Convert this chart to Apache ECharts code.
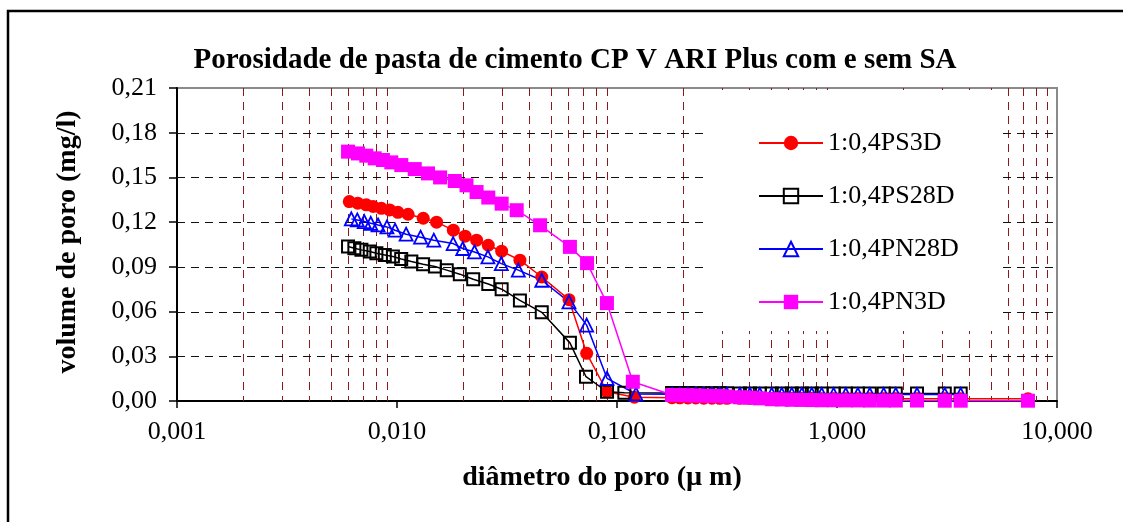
<!DOCTYPE html>
<html><head><meta charset="utf-8">
<script src="https://cdn.jsdelivr.net/npm/echarts@6/dist/echarts.min.js"></script>
<style>html,body{margin:0;padding:0;background:#fff;overflow:hidden}#c{width:1123px;height:522px}</style>
</head><body><div id="c"></div>
<script>
// ---------- text ----------
const titleText = 'Porosidade de pasta de cimento CP V ARI Plus com e sem SA';
const xAxisTitle = 'diâmetro do poro (µ m)';
const yAxisTitle = 'volume de poro (mg/l)';
const seriesNames = ['1:0,4PS3D', '1:0,4PS28D', '1:0,4PN28D', '1:0,4PN3D'];

// ---------- axis ----------
const xMin = 0.001, xMax = 10;
const yMin = 0, yMax = 0.21, yStep = 0.03;
const hGridValues = [0.03, 0.06, 0.09, 0.12, 0.15, 0.18];
const vGridValues = [0.002,0.003,0.004,0.005,0.006,0.007,0.008,0.009,
                     0.02,0.03,0.04,0.05,0.06,0.07,0.08,0.09,
                     0.2,0.3,0.4,0.5,0.6,0.7,0.8,0.9,
                     2,3,4,5,6,7,8,9];

// ---------- data (diameter in µm, volume) ----------
const tailDiam = [0.178,0.193,0.210,0.228,0.248,0.270,0.293,0.316,0.362,0.402,0.446,0.505,0.561,
                  0.623,0.692,0.768,0.852,0.965,1.096,1.244,1.41,1.63,1.85,2.31,3.09,3.65];

const ps3dDiam = [0.00607,0.00663,0.00725,0.00779,0.00849,0.00926,0.0101,0.01123,0.01316,0.01513,
                  0.01803,0.0204,0.023,0.026,0.0299,0.0362,0.0455,0.0605,0.0728,0.0901,0.12];
const ps3dVol  = [0.1338,0.1327,0.1316,0.1305,0.1293,0.1282,0.1266,0.1253,0.1226,0.1200,
                  0.1146,0.1106,0.1079,0.1045,0.1005,0.0945,0.0832,0.0680,0.0320,0.0062,0.0025];
const ps3dTailVol = [0.0022,0.0021,0.0020,0.0020,0.0019,0.0019,0.0018,0.0018,0.0018,0.0017,0.0017,0.0017,0.0016,
                     0.0016,0.0016,0.0016,0.0015,0.0015,0.0015,0.0015,0.0015,0.0015,0.0015,0.0015,0.0015,0.0015];
const ps3dLast = [7.38, 0.0015];

const ps28dDiam = [0.00599,0.0064,0.00689,0.00752,0.00806,0.0088,0.00958,0.01045,0.01162,0.01314,0.01487,
                   0.01683,0.0193,0.0222,0.026,0.0299,0.0362,0.0455,0.0611,0.0723,0.0901,0.108];
const ps28dVol  = [0.1036,0.1025,0.1014,0.1003,0.0991,0.0980,0.0969,0.0953,0.0936,0.0918,0.0902,
                   0.0878,0.0851,0.0817,0.0785,0.0750,0.0675,0.0595,0.0390,0.0163,0.0062,0.0056];
const ps28dTailVol = [0.0053,0.0053,0.0053,0.0052,0.0052,0.0052,0.0052,0.0052,0.0051,0.0051,0.0051,0.0051,0.0051,
                      0.0051,0.0050,0.0050,0.0050,0.0050,0.0050,0.0050,0.0050,0.0050,0.0050,0.0050,0.0050,0.0050];

const pn28dDiam = [0.0062,0.0066,0.0071,0.0076,0.0082,0.009,0.0098,0.011,0.0128,0.0147,0.018,
                   0.0199,0.0225,0.0259,0.0298,0.0356,0.0455,0.0605,0.0728,0.0901,0.122];
const pn28dVol  = [0.1222,0.1215,0.1204,0.1192,0.1181,0.1168,0.1146,0.1119,0.1099,0.1079,0.1056,
                   0.1023,0.1000,0.0967,0.0922,0.0878,0.0810,0.0665,0.0509,0.0152,0.0047];
const pn28dTailVol = [0.0046,0.0046,0.0046,0.0045,0.0045,0.0045,0.0045,0.0045,0.0045,0.0045,0.0045,0.0044,0.0044,
                      0.0044,0.0044,0.0044,0.0044,0.0044,0.0044,0.0044,0.0044,0.0044,0.0044,0.0044,0.0044,0.0044];

const pn3dDiam = [0.00599,0.00665,0.00725,0.00792,0.00863,0.00942,0.01046,0.01204,0.01383,0.0157,
                  0.0183,0.0207,0.023,0.026,0.0299,0.035,0.0447,0.0611,0.0731,0.09,0.118];
const pn3dVol  = [0.1673,0.1661,0.1646,0.1628,0.1617,0.1601,0.1583,0.1556,0.1527,0.1500,
                  0.1476,0.1447,0.1402,0.1365,0.1324,0.1280,0.1179,0.1034,0.0925,0.0657,0.0129];
const pn3dTailVol = [0.0040,0.0040,0.0038,0.0037,0.0035,0.0034,0.0033,0.0030,0.0025,0.0022,0.0018,0.0012,0.0010,
                     0.0008,0.0007,0.0006,0.0005,0.0005,0.0004,0.0004,0.0003,0.0003,0.0003,0.0003,0.0002,0.0002];
const pn3dLast = [7.38, 0.0002];

// ---------- build ----------
function zip(d, v) { return d.map((x, i) => [x, v[i]]); }
const dataPS3D  = zip(ps3dDiam, ps3dVol).concat(zip(tailDiam, ps3dTailVol), [ps3dLast]);
const dataPS28D = zip(ps28dDiam, ps28dVol).concat(zip(tailDiam, ps28dTailVol));
const dataPN28D = zip(pn28dDiam, pn28dVol).concat(zip(tailDiam, pn28dTailVol));
const dataPN3D  = zip(pn3dDiam, pn3dVol).concat(zip(tailDiam, pn3dTailVol), [pn3dLast]);

const serif = '"Liberation Serif", "Times New Roman", serif';

// vertical grid (minor log lines) and horizontal grid drawn through the axes' scales
const vGridSeries = {
  type: 'custom', silent: true, z: 1, clip: true,
  data: vGridValues.map(v => [v, yMin]),
  renderItem: function (params, api) {
    const cs = params.coordSys;
    const x = Math.round(api.coord([api.value(0), yMin])[0]) + 0.5;
    return { type: 'line', shape: { x1: x, y1: cs.y, x2: x, y2: cs.y + cs.height },
             style: { stroke: '#8b1a1a', lineWidth: 1, lineDash: [8, 6] } };
  }
};
const hGridSeries = {
  type: 'custom', silent: true, z: 1, clip: true,
  data: hGridValues.map(v => [1, v]),
  renderItem: function (params, api) {
    const cs = params.coordSys;
    const y = Math.round(api.coord([1, api.value(1)])[1]) + 0.5;
    return { type: 'line', shape: { x1: cs.x, y1: y, x2: cs.x + cs.width, y2: y },
             style: { stroke: '#111', lineWidth: 1, lineDash: [8, 6] } };
  }
};

const chart = echarts.init(document.getElementById('c'), null, { renderer: 'canvas' });
chart.setOption({
  animation: false,
  backgroundColor: '#fff',
  grid: { left: 177, right: 66, top: 88, bottom: 121, show: true, borderColor: '#8a8a8a', borderWidth: 2, backgroundColor: 'transparent' },
  xAxis: {
    type: 'log', logBase: 10, min: xMin, max: xMax,
    axisLine: { show: true, onZero: false, lineStyle: { color: '#000', width: 2 } },
    axisTick: { show: true, inside: false, length: 7, lineStyle: { color: '#000', width: 1.5 } },
    splitLine: { show: false },
    minorTick: { show: false },
    minorSplitLine: { show: false },
    axisLabel: {
      margin: 18, color: '#000', fontFamily: serif, fontSize: 26,
      formatter: v => Number(v).toFixed(3).replace('.', ',')
    }
  },
  yAxis: {
    type: 'value', min: yMin, max: yMax, interval: yStep,
    axisLine: { show: true, lineStyle: { color: '#000', width: 2 } },
    axisTick: { show: true, inside: false, length: 8, lineStyle: { color: '#000', width: 1.5 } },
    splitLine: { show: false },
    axisLabel: {
      margin: 20, color: '#000', fontFamily: serif, fontSize: 26,
      formatter: v => Number(v).toFixed(2).replace('.', ',')
    }
  },
  legend: {
    data: seriesNames,
    orient: 'vertical',
    left: 705, top: 90,
    padding: [40, 40, 16, 53],
    backgroundColor: '#fff',
    itemWidth: 64, itemHeight: 18, itemGap: 27,
    textStyle: { fontFamily: serif, fontSize: 26, color: '#000' },
    z: 4
  },
  series: [
    vGridSeries,
    hGridSeries,
    {
      name: seriesNames[0], type: 'line', data: dataPS3D, z: 3,
      symbol: 'circle', symbolSize: 13,
      itemStyle: { color: '#ff0000' },
      lineStyle: { color: '#ff0000', width: 1.5 }
    },
    {
      name: seriesNames[1], type: 'line', data: dataPS28D, z: 3,
      symbol: 'rect', symbolSize: 12,
      itemStyle: { color: 'rgba(0,0,0,0)', borderColor: '#000', borderWidth: 2 },
      lineStyle: { color: '#000', width: 1.5 }
    },
    {
      name: seriesNames[2], type: 'line', data: dataPN28D, z: 3,
      symbol: 'triangle', symbolSize: 13,
      itemStyle: { color: 'rgba(0,0,0,0)', borderColor: '#0000ff', borderWidth: 1.8 },
      lineStyle: { color: '#0000ff', width: 1.5 }
    },
    {
      name: seriesNames[3], type: 'line', data: dataPN3D, z: 3,
      symbol: 'rect', symbolSize: 14,
      itemStyle: { color: '#ff00ff' },
      lineStyle: { color: '#ff00ff', width: 1.5 }
    }
  ],
  graphic: [
    { type: 'rect', silent: true, z: 10, shape: { x: 8, y: 11, width: 1140, height: 540 },
      style: { fill: 'none', stroke: '#000', lineWidth: 2.5 } },
    { type: 'text', silent: true, z: 10, x: 575, y: 61,
      style: { text: titleText, fontFamily: serif, fontWeight: 'bold', fontSize: 29, fill: '#000', align: 'center', verticalAlign: 'middle' } },
    { type: 'text', silent: true, z: 10, x: 602, y: 478,
      style: { text: xAxisTitle, fontFamily: serif, fontWeight: 'bold', fontSize: 28, fill: '#000', align: 'center', verticalAlign: 'middle' } },
    { type: 'text', silent: true, z: 10, x: 68, y: 242, rotation: Math.PI / 2,
      style: { text: yAxisTitle, fontFamily: serif, fontWeight: 'bold', fontSize: 28, fill: '#000', align: 'center', verticalAlign: 'middle' } }
  ]
});
</script>
</body></html>
